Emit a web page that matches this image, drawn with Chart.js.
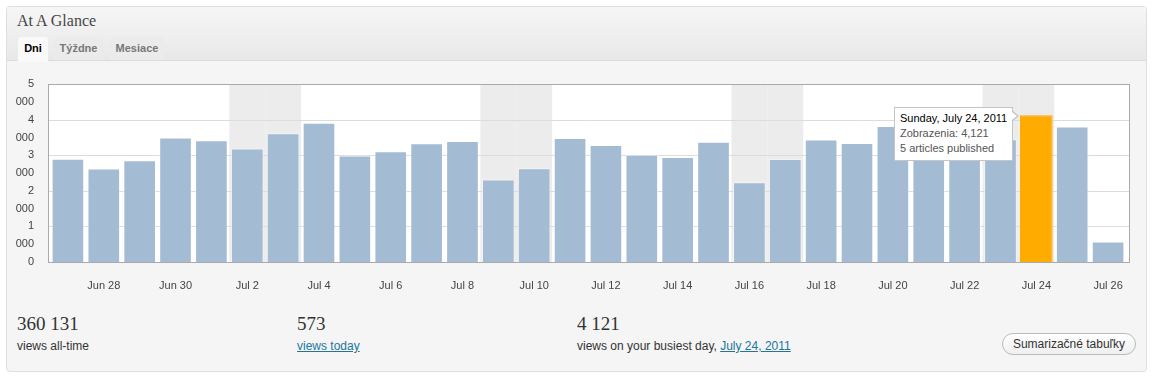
<!DOCTYPE html>
<html><head><meta charset="utf-8">
<script src="https://cdn.jsdelivr.net/npm/chart.js@4.4.0/dist/chart.umd.min.js"></script>
<style>
html,body{margin:0;padding:0;}
body{background:#fff;width:1155px;height:380px;overflow:hidden;position:relative;font-family:Arial,"Liberation Sans",sans-serif;}
.abs{position:absolute;box-sizing:border-box;}
#panel{left:6px;top:6px;width:1141px;height:366px;border:1px solid #dfdfdf;border-radius:4px;background:#f5f5f5;}
#head{left:7px;top:7px;width:1139px;height:54px;background:linear-gradient(#f6f6f6,#e8e8e8);border-bottom:1px solid #dcdcdc;border-radius:3px 3px 0 0;}
#title{left:17px;top:11px;font-family:"Liberation Serif",serif;font-size:16px;line-height:20px;color:#464646;white-space:nowrap;}
.tab{top:37px;height:23px;line-height:23px;font-size:11px;font-weight:bold;color:#777;background:#ebebeb;text-align:center;border-radius:3px 3px 0 0;}
#tab1{left:18px;width:30px;height:25px;background:#f9f9f9;color:#000;}
#tab2{left:54px;width:49px;}
#tab3{left:110px;width:54px;}
#wrap{left:0;top:62px;width:1155px;height:228px;}
.big{font-family:"Liberation Serif",serif;font-size:19px;line-height:20px;color:#333;white-space:nowrap;}
.small{font-size:12px;line-height:14px;color:#333;white-space:nowrap;}
a{color:#21759b;text-decoration:underline;}
#btn{left:1002px;top:333px;width:134px;height:22px;border:1px solid #bbb;border-radius:11px;background:linear-gradient(#fff,#efefef);font-size:12px;line-height:20px;color:#333;text-align:center;}
#tip{position:absolute;display:none;background:#fff;border:1px solid #c4c4c4;padding:3px 5px 4px 5px;font-size:11px;line-height:15px;white-space:nowrap;color:#555;}
#tip .t{color:#000;}
#tip:before{content:"";position:absolute;right:-7px;top:3px;border-left:6px solid #c4c4c4;border-top:5px solid transparent;border-bottom:5px solid transparent;}
#tip:after{content:"";position:absolute;right:-5px;top:4px;border-left:5px solid #fff;border-top:4px solid transparent;border-bottom:4px solid transparent;}
</style>
</head>
<body>
<div id="panel" class="abs"></div>
<div id="head" class="abs"></div>
<div id="title" class="abs">At A Glance</div>
<div id="tab1" class="abs tab">Dni</div>
<div id="tab2" class="abs tab">Týždne</div>
<div id="tab3" class="abs tab">Mesiace</div>
<div id="wrap" class="abs"><canvas id="c"></canvas></div>
<div id="tip"><div class="t" id="tipTitle"></div><div id="tipBody"></div><div id="tipExtra"></div></div>

<div class="abs big" style="left:17px;top:314px;">360 131</div>
<div class="abs small" style="left:17px;top:339px;">views all-time</div>
<div class="abs big" style="left:297px;top:314px;">573</div>
<div class="abs small" style="left:297px;top:339px;"><a href="#">views today</a></div>
<div class="abs big" style="left:577px;top:314px;">4 121</div>
<div class="abs small" style="left:577px;top:339px;">views on your busiest day, <a href="#">July 24, 2011</a></div>
<div id="btn" class="abs">Sumarizačné tabuľky</div>

<script>
// ---- data ----
const year = 2011;
const categories = ['Jun 27','Jun 28','Jun 29','Jun 30','Jul 1','Jul 2','Jul 3','Jul 4','Jul 5','Jul 6',
  'Jul 7','Jul 8','Jul 9','Jul 10','Jul 11','Jul 12','Jul 13','Jul 14','Jul 15','Jul 16',
  'Jul 17','Jul 18','Jul 19','Jul 20','Jul 21','Jul 22','Jul 23','Jul 24','Jul 25','Jul 26'];
const views = [2900, 2625, 2860, 3495, 3420, 3185, 3615, 3915, 2990, 3110,
  3335, 3400, 2315, 2635, 3485, 3290, 3010, 2950, 3375, 2240,
  2895, 3440, 3345, 3820, 3550, 3300, 3450, 4121, 3805, 573];
const yTicks = [0, 1000, 2000, 3000, 4000, 5000];
const highlightIndex = 27;
const highlightArticles = 5;
const seriesName = 'Zobrazenia';

// ---- helpers ----
const monthShort = {Jun:5, Jul:6};
const monthLong = ['January','February','March','April','May','June','July','August','September','October','November','December'];
const weekdayLong = ['Sunday','Monday','Tuesday','Wednesday','Thursday','Friday','Saturday'];
function toDate(lbl){ const [m,d] = lbl.split(' '); return new Date(year, monthShort[m], +d); }
const weekend = categories.map(l => { const g = toDate(l).getDay(); return g === 0 || g === 6; });
function fmt(n){ return String(n).replace(/\B(?=(\d{3})+(?!\d))/g, ','); }

const INSET = 2.5; // frame sits slightly outside the category span

const bgPlugin = {
  id: 'bg',
  beforeDraw(chart){
    const {ctx, chartArea:a, scales:{x, y}} = chart;
    const fl = Math.round(a.left - INSET), fr = Math.round(a.right + INSET);
    ctx.save();
    ctx.fillStyle = '#ffffff';
    ctx.fillRect(fl, a.top, fr - fl, a.bottom - a.top);
    ctx.fillStyle = '#ececec';
    const half = (x.getPixelForValue(1) - x.getPixelForValue(0)) / 2;
    weekend.forEach((w,i) => {
      if (!w) return;
      const c = x.getPixelForValue(i);
      ctx.fillRect(c-half, a.top, half*2, a.bottom-a.top);
    });
    ctx.strokeStyle = '#dcdcdc';
    ctx.lineWidth = 1;
    yTicks.forEach(v => {
      const py = Math.round(y.getPixelForValue(v)) + 0.5;
      ctx.beginPath(); ctx.moveTo(fl, py); ctx.lineTo(fr, py); ctx.stroke();
    });
    ctx.restore();
  },
  afterDatasetsDraw(chart){
    const {ctx, chartArea:a} = chart;
    const fl = Math.round(a.left - INSET), fr = Math.round(a.right + INSET);
    ctx.save();
    ctx.strokeStyle = '#aaaaaa';
    ctx.lineWidth = 1;
    ctx.strokeRect(fl + 0.5, Math.round(a.top) + 0.5, fr - fl, Math.round(a.bottom - a.top));
    ctx.restore();
  }
};

function externalTip(context){
  const {chart, tooltip} = context;
  const el = document.getElementById('tip');
  if (tooltip.opacity === 0 || !tooltip.dataPoints || !tooltip.dataPoints.length){ el.style.display='none'; return; }
  const dp = tooltip.dataPoints[0];
  const i = dp.dataIndex;
  const d = toDate(categories[i]);
  document.getElementById('tipTitle').textContent = weekdayLong[d.getDay()] + ', ' + monthLong[d.getMonth()] + ' ' + d.getDate() + ', ' + d.getFullYear();
  document.getElementById('tipBody').textContent = seriesName + ': ' + fmt(views[i]);
  document.getElementById('tipExtra').textContent = (i === highlightIndex ? highlightArticles : 0) + ' articles published';
  el.style.display = 'block';
  const bar = dp.element;
  const r = chart.canvas.getBoundingClientRect();
  el.style.left = (r.left + bar.x - bar.width/2 - 7 - el.offsetWidth) + 'px';
  el.style.top = (r.top + bar.y - 8) + 'px';
}

function zeroPad(s){ s.paddingTop = 0; s.paddingBottom = 0; s.paddingLeft = 0; s.paddingRight = 0; }

const chart = new Chart(document.getElementById('c'), {
  type: 'bar',
  data: {
    labels: categories,
    datasets: [{
      label: seriesName,
      data: views,
      backgroundColor: '#a3bbd3',
      borderColor: 'rgba(255,255,255,0.45)',
      borderWidth: 1,
      hoverBackgroundColor: '#ffab00',
      hoverBorderColor: '#ffab00',
      barPercentage: 0.91,
      categoryPercentage: 1.0
    }]
  },
  options: {
    responsive: true,
    maintainAspectRatio: false,
    animation: false,
    events: [],
    layout: { padding: { left: 10, right: 29, top: 22, bottom: 0 } },
    plugins: {
      legend: { display: false },
      tooltip: { enabled: false, external: externalTip }
    },
    scales: {
      x: {
        grid: { display: false },
        border: { display: false },
        ticks: {
          autoSkip: false, maxRotation: 0, minRotation: 0, padding: 9,
          color: '#444', font: { family: 'Arial, "Liberation Sans", sans-serif', size: 11 },
          callback: (v, i) => i % 2 === 1 ? categories[i] : ''
        },
        afterFit(s){ s.height = 28; zeroPad(s); }
      },
      y: {
        min: 0, max: 5000,
        afterBuildTicks(s){ s.ticks = yTicks.map(v => ({value: v})); },
        grid: { display: false },
        border: { display: false },
        ticks: {
          autoSkip: false,
          padding: 8, labelOffset: 9,
          color: '#444', font: { family: 'Arial, "Liberation Sans", sans-serif', size: 11, lineHeight: 18/11 },
          callback: v => v === 0 ? ['0', ''] : [String(v/1000), '000']
        },
        afterFit(s){ s.width = 40; zeroPad(s); }
      }
    }
  },
  plugins: [bgPlugin]
});

const active = [{datasetIndex: 0, index: highlightIndex}];
const b = chart.getDatasetMeta(0).data[highlightIndex];
chart.setActiveElements(active);
chart.tooltip.setActiveElements(active, {x: b.x, y: b.y});
chart.update();
</script>
</body></html>
